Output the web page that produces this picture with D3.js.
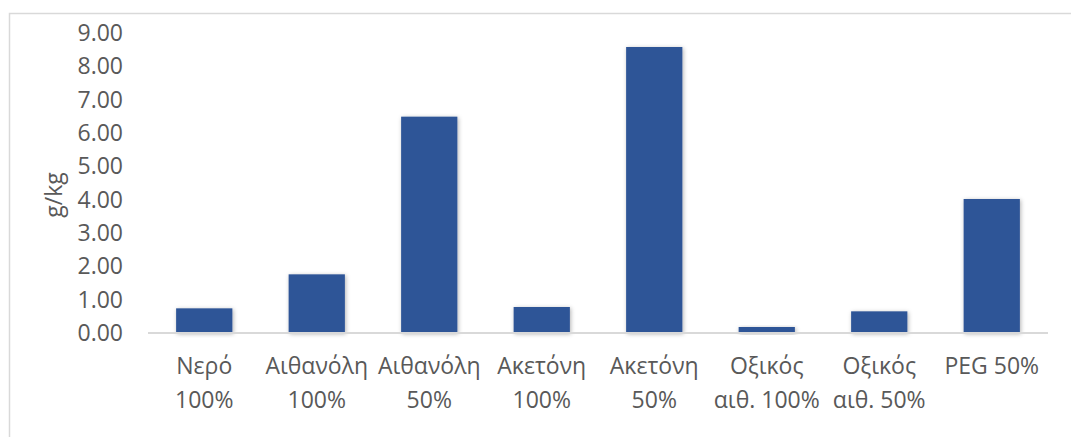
<!DOCTYPE html>
<html><head><meta charset="utf-8">
<script src="https://cdn.jsdelivr.net/npm/d3@7"></script>
<style>html,body{margin:0;padding:0;background:#fff;overflow:hidden}</style>
</head><body>
<svg id="chart" width="1071" height="437"></svg>
<script>
const categories = [["Νερό","100%"],["Αιθανόλη","100%"],["Αιθανόλη","50%"],["Ακετόνη","100%"],["Ακετόνη","50%"],["Οξικός","αιθ. 100%"],["Οξικός","αιθ. 50%"],["PEG 50%",""]];
const values = [0.74, 1.76, 6.49, 0.78, 8.58, 0.18, 0.65, 4.02];
const yTicks = [0,1,2,3,4,5,6,7,8,9];
const yTitle = "g/kg";

const svg = d3.select("#chart");
const font = "'Open Sans', sans-serif";
const textColor = "#595959";
const fs = 23;

const defs = svg.append("defs");
const f = defs.append("filter").attr("id","sh").attr("x","-20%").attr("y","-20%").attr("width","140%").attr("height","140%");
f.append("feDropShadow").attr("dx",1).attr("dy",1).attr("stdDeviation",2).attr("flood-color","#000").attr("flood-opacity",0.3);

svg.append("rect").attr("x",9.5).attr("y",13.5).attr("width",1075).attr("height",440)
  .attr("fill","none").attr("stroke","#d9d9d9").attr("stroke-width",1.5);

const x = d3.scaleBand().domain(d3.range(categories.length)).range([148,1048]).paddingInner(0.5).paddingOuter(0.25);
const y = d3.scaleLinear().domain([0,9]).range([333,33]);

svg.append("g").selectAll("rect").data(values).join("rect")
  .attr("x",(d,i)=>x(i)).attr("width",x.bandwidth())
  .attr("y",d=>y(d)).attr("height",d=>y(0)-y(d))
  .attr("fill","#2F5597").attr("filter","url(#sh)");

svg.append("line").attr("x1",148).attr("x2",1048).attr("y1",y(0)).attr("y2",y(0))
  .attr("stroke","#d9d9d9").attr("stroke-width",2);

const yAxis = d3.axisLeft(y).tickValues(yTicks).tickFormat(d3.format(".2f")).tickSize(0).tickPadding(25);
const ga = svg.append("g").attr("transform","translate(148,0)").call(yAxis);
ga.select(".domain").remove();
ga.selectAll("text").attr("font-family",font).attr("font-size",fs).attr("fill",textColor);

const xl = svg.append("g");
categories.forEach((c,i)=>{
  const cx = x(i)+x.bandwidth()/2;
  const t = xl.append("text").attr("x",cx).attr("y",374).attr("text-anchor","middle")
    .attr("font-family",font).attr("font-size",fs).attr("fill",textColor);
  t.append("tspan").attr("x",cx).attr("dy",0).text(c[0]);
  if (c[1]) t.append("tspan").attr("x",cx).attr("dy",34).text(c[1]);
});

svg.append("text").attr("transform","translate(62,195) rotate(-90)").attr("text-anchor","middle")
  .attr("font-family",font).attr("font-size",fs).attr("fill",textColor).text(yTitle);
</script>
</body></html>
